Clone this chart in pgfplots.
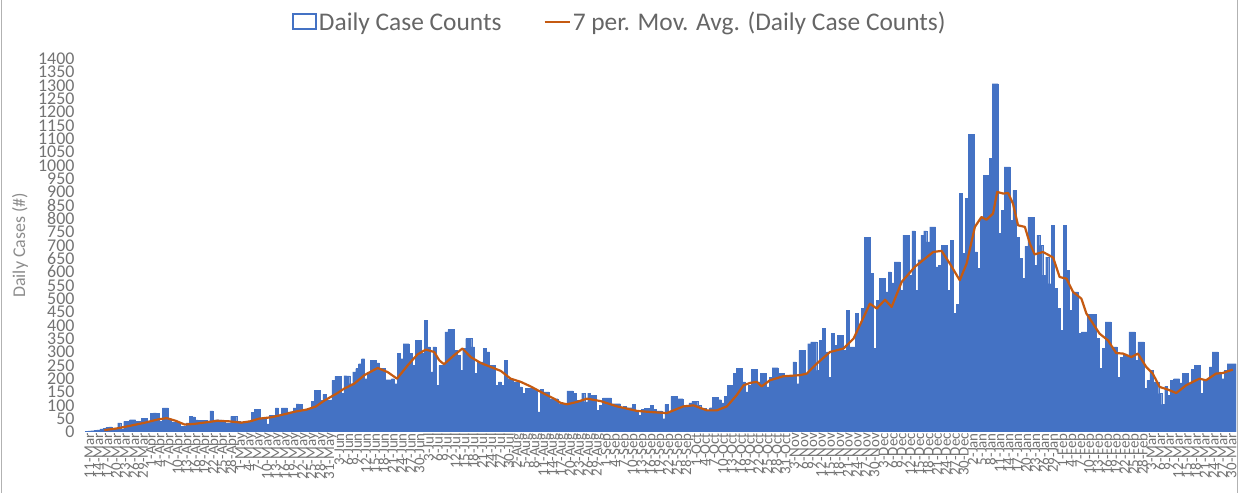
\documentclass[border=0pt]{standalone}
\usepackage{fontspec}
\setmainfont{Carlito}
\usepackage{pgfplots}
\pgfplotsset{compat=1.18}
\usepackage{pgfcalendar}
\definecolor{barblue}{HTML}{4472C4}
\definecolor{maorange}{HTML}{C55A11}
\definecolor{ticktext}{HTML}{737373}
\definecolor{legtext}{HTML}{666666}
\definecolor{titletext}{HTML}{8C8C8C}
\newcount\startjd
\pgfcalendardatetojulian{2020-03-11}{\startjd}
\begin{document}
\begin{tikzpicture}
\path[use as bounding box] (0,0) rectangle (1239bp,493bp);
\draw[black!30, line width=1.5bp] (1.5bp,0) -- (1.5bp,493bp);
\draw[black!30, line width=1.5bp] (1237.5bp,0) -- (1237.5bp,493bp);
\begin{axis}[
  at={(85bp,61bp)}, anchor=south west,
  scale only axis, width=1151bp, height=373.4bp,
  xmin=-0.5, xmax=386.5, ymin=0, ymax=1400,
  ytick={0,50,...,1400},
  xtick={0,3,...,384},
  axis x line=bottom, axis y line=left,
  x axis line style={-, draw=black!18, line width=1bp},
  y axis line style={draw=none},
  major tick length=0pt,
  tick style={draw=none},
  yticklabel style={font=\fontsize{18}{18}\selectfont, text=ticktext, xshift=-7bp, /pgf/number format/assume math mode=true, /pgf/number format/set thousands separator={}},
  xticklabel style={rotate=90, anchor=east, font=\fontsize{15}{15}\selectfont, text=ticktext, inner sep=1bp, yshift=-3bp},
  xticklabel={\pgfmathtruncatemacro\tk{round(\tick)}\edef\jd{\the\numexpr\tk+\startjd\relax}\pgfcalendarjuliantodate{\jd}{\yy}{\mm}{\dd}\number\dd-\pgfcalendarmonthshortname{\number\mm}},
  ylabel={Daily Cases (\#)},
  every axis y label/.style={at={(axis description cs:-0.0565,0.5)}, anchor=center, rotate=90, font=\fontsize{18}{18}\selectfont, text=titletext},
  legend style={at={(rel axis cs:0.4644,1.098)}, anchor=center, draw=none, fill=none, font=\fontsize{25.5}{26}\selectfont, text=legtext, /tikz/every even column/.append style={column sep=40bp}},
  legend columns=2,
]
\addplot[ybar, bar width=1, fill=barblue, draw=barblue, line width=0.3bp,
  legend image code/.code={\draw[barblue, line width=2.5bp, fill=white] (0bp,-7bp) rectangle (23bp,8bp);}]
coordinates {
(0,3)(1,4)(2,5)(3,6)(4,8)(5,12)(6,13)(7,18)(8,19)(9,8)
(10,10)(11,34)(12,12)(13,40)(14,41)(15,46)(16,46)(17,40)(18,41)(19,52)
(20,52)(21,42)(22,71)(23,72)(24,71)(25,40)(26,90)(27,90)(28,49)(29,38)
(30,37)(31,36)(32,21)(33,22)(34,34)(35,59)(36,57)(37,45)(38,44)(39,44)
(40,43)(41,42)(42,79)(43,45)(44,46)(45,45)(46,44)(47,33)(48,34)(49,59)
(50,58)(51,40)(52,33)(53,32)(54,40)(55,42)(56,73)(57,85)(58,85)(59,48)
(60,47)(61,30)(62,63)(63,62)(64,90)(65,63)(66,90)(67,90)(68,75)(69,76)
(70,90)(71,105)(72,104)(73,85)(74,86)(75,87)(76,115)(77,156)(78,156)(79,119)
(80,141)(81,119)(82,120)(83,194)(84,209)(85,209)(86,146)(87,211)(88,210)(89,181)
(90,225)(91,238)(92,256)(93,275)(94,200)(95,225)(96,269)(97,269)(98,259)(99,238)
(100,238)(101,196)(102,196)(103,200)(104,181)(105,294)(106,275)(107,331)(108,331)(109,294)
(110,250)(111,344)(112,344)(113,294)(114,419)(115,319)(116,225)(117,319)(118,175)(119,250)
(120,250)(121,375)(122,384)(123,384)(124,306)(125,288)(126,231)(127,313)(128,350)(129,350)
(130,319)(131,219)(132,263)(133,263)(134,313)(135,300)(136,250)(137,250)(138,175)(139,188)
(140,175)(141,269)(142,200)(143,200)(144,188)(145,188)(146,169)(147,144)(148,163)(149,163)
(150,163)(151,156)(152,75)(153,159)(154,150)(155,150)(156,125)(157,125)(158,125)(159,106)
(160,106)(161,106)(162,154)(163,154)(164,146)(165,119)(166,119)(167,146)(168,113)(169,146)
(170,138)(171,138)(172,81)(173,100)(174,128)(175,128)(176,128)(177,106)(178,106)(179,106)
(180,88)(181,96)(182,91)(183,91)(184,104)(185,78)(186,63)(187,84)(188,88)(189,88)
(190,100)(191,84)(192,79)(193,79)(194,50)(195,104)(196,75)(197,134)(198,134)(199,125)
(200,125)(201,100)(202,100)(203,109)(204,116)(205,116)(206,100)(207,88)(208,88)(209,81)
(210,91)(211,129)(212,129)(213,121)(214,109)(215,134)(216,175)(217,175)(218,219)(219,238)
(220,238)(221,188)(222,150)(223,175)(224,234)(225,234)(226,188)(227,221)(228,221)(229,169)
(230,204)(231,241)(232,241)(233,219)(234,219)(235,209)(236,209)(237,213)(238,263)(239,181)
(240,306)(241,306)(242,219)(243,331)(244,338)(245,338)(246,231)(247,344)(248,388)(249,300)
(250,206)(251,369)(252,325)(253,363)(254,363)(255,306)(256,456)(257,319)(258,319)(259,444)
(260,400)(261,463)(262,731)(263,731)(264,596)(265,313)(266,494)(267,575)(268,575)(269,525)
(270,600)(271,559)(272,638)(273,638)(274,531)(275,738)(276,738)(277,588)(278,754)(279,531)
(280,646)(281,738)(282,754)(283,713)(284,769)(285,769)(286,619)(287,625)(288,700)(289,700)
(290,531)(291,719)(292,444)(293,479)(294,896)(295,669)(296,875)(297,1116)(298,1116)(299,675)
(300,613)(301,806)(302,963)(303,963)(304,1025)(305,1306)(306,1306)(307,744)(308,831)(309,994)
(310,994)(311,794)(312,906)(313,731)(314,650)(315,575)(316,696)(317,806)(318,806)(319,625)
(320,738)(321,700)(322,588)(323,656)(324,556)(325,775)(326,538)(327,463)(328,381)(329,775)
(330,606)(331,456)(332,525)(333,525)(334,369)(335,375)(336,375)(337,440)(338,440)(339,440)
(340,350)(341,238)(342,313)(343,413)(344,413)(345,319)(346,319)(347,206)(348,281)(349,288)
(350,288)(351,375)(352,375)(353,269)(354,338)(355,338)(356,163)(357,194)(358,231)(359,188)
(360,188)(361,144)(362,104)(363,171)(364,138)(365,194)(366,200)(367,200)(368,184)(369,219)
(370,219)(371,181)(372,234)(373,250)(374,250)(375,144)(376,194)(377,194)(378,244)(379,300)
(380,300)(381,225)(382,200)(383,231)(384,256)(385,256)(386,256)
};
\addlegendentry{Daily Case Counts}
\addplot[maorange, line width=2.2bp, line join=round,
  legend image code/.code={\draw[maorange, line width=2.2bp] (0bp,0bp) -- (25bp,0bp);}]
coordinates {
(6,7)(8,10)(10,13)(15,24)(20,36)(24,47)(27,52)(30,42)(33,28)(36,30)(40,36)(44,42)(48,40)(52,35)(55,40)(58,50)(62,55)(66,65)(70,76)(74,84)(77,95)(80,118)(84.4,146)(86.7,163)(90,181)(93.4,213)(97.9,240)(101.2,225)(104.4,200)(108,250)(111.3,291)(114.1,309)(116.9,300)(118.6,269)(120.2,254)(123.6,288)(126.4,313)(129.2,281)(132.5,259)(135.9,244)(139.3,229)(142.6,200)(146,188)(149.3,171)(153.8,144)(157.2,125)(159.4,109)(161.6,104)(165,113)(168.3,125)(172.8,116)(178.4,96)(185.1,79)(189.6,75)(195.1,71)(200.7,96)(204.1,100)(208.6,81)(211.9,81)(215.3,96)(218.6,138)(220.9,175)(223.1,184)(225.4,188)(227,171)(229.8,194)(234.3,209)(239.9,213)(242.2,219)(245.5,256)(250,300)(254.5,313)(257.9,350)(263.4,481)(265.7,463)(268.5,496)(270.7,469)(274.1,563)(278.5,619)(281.9,650)(284.7,675)(287.5,679)(290.3,631)(293.6,569)(295.9,631)(298.7,769)(300.9,806)(302.6,796)(304.8,819)(306.2,900)(308.2,894)(309.9,896)(311.5,856)(313.2,775)(315.5,769)(317.2,706)(318.8,666)(321.6,675)(325,654)(327.2,581)(329.5,575)(331.7,525)(334.5,500)(336.2,444)(340.6,369)(343.4,344)(346.2,296)(348.5,294)(351.3,281)(353.5,294)(356.3,244)(358.5,219)(360.8,169)(363.6,159)(366.4,146)(369.7,175)(372,188)(374.2,200)(376.4,194)(379.8,219)(382,221)(385.4,234)
};
\addlegendentry{7 per. Mov. Avg. (Daily Case Counts)}
\end{axis}
\end{tikzpicture}
\end{document}
